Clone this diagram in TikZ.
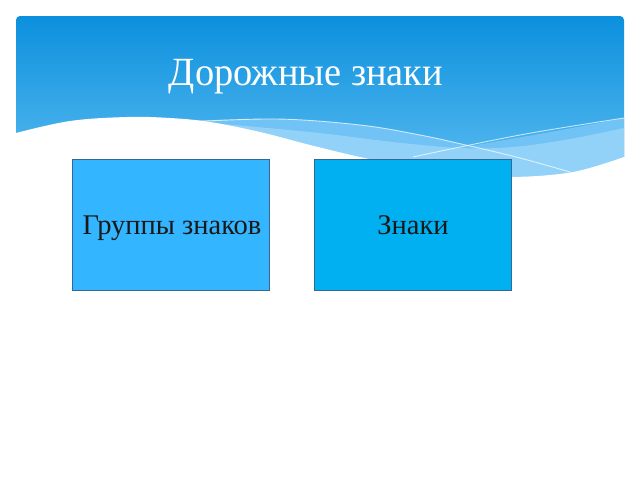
\documentclass[tikz,border=0pt]{standalone}
\usepackage{fontspec}
\setmainfont{Liberation Serif}
\begin{document}
\begin{tikzpicture}[x=1pt,y=-1pt]
\definecolor{hdrtop}{RGB}{12,144,221}
\definecolor{hdrbot}{RGB}{95,190,242}
\definecolor{bandA}{RGB}{112,195,244}
\definecolor{bandB}{RGB}{146,210,249}
\definecolor{boxA}{RGB}{51,181,255}
\definecolor{boxB}{RGB}{0,176,240}
\definecolor{boxline}{RGB}{52,104,146}
\tikzset{
  card/.style={draw=boxline, line width=1pt, minimum width=197pt, minimum height=131pt, inner sep=0pt},
  thinline/.style={draw=white, draw opacity=0.7, line width=0.9pt},
  cardtext/.style={font=\fontsize{28.5}{32}\selectfont, text=black!90, anchor=base}
}
\useasboundingbox (0,0) rectangle (640,480);
\fill[white] (0,0) rectangle (640,480);
% header
\shade[top color=hdrtop, bottom color=hdrbot, rounded corners=4pt]
  (16,190) -- (16,16) -- (624,16) -- (624,190) -- cycle;
% band A
\fill[bandA] plot[smooth, tension=0.6] coordinates {(185,121) (277,119) (360,125) (420,135) (470,146)}
  -- plot[smooth] coordinates {(470,146) (550,132) (624,118)} -- (624,190) -- (185,190) -- cycle;
% band B
\fill[bandB] plot[smooth, tension=0.6] coordinates {(200,122) (310,132) (393,142) (460,148) (513,147) (570,139) (624,128)}
  -- (624,190) -- (200,190) -- cycle;
% white wave
\fill[white] plot[smooth, tension=0.6] coordinates {(16,133) (70,121) (127,117) (170,118) (210,122) (260,132) (310,145) (360,157) (410,167) (460,174) (513,177) (573,172) (624,157)}
  -- (630,157) -- (630,200) -- (10,200) -- (10,133) -- cycle;
% thin lines
\draw[thinline] plot[smooth, tension=0.6] coordinates {(187,122) (277,119) (360,125) (420,135) (470,146) (520,158) (570,172)};
\draw[thinline] plot[smooth, tension=0.6] coordinates {(413,157) (520,135) (624,118)};
% title
\node[font=\fontsize{40}{48}\selectfont, text=white, anchor=base, xscale=0.96] (title) at (306,85) {Дорожные знаки};
% boxes
\node[card, fill=boxA] (groups) at (170.5,224.5) {};
\node[card, fill=boxB] (signs) at (413,224.5) {};
\node[cardtext] (groupstxt) at (172,234.5) {Группы знаков};
\node[cardtext] (signstxt) at (413,234.5) {Знаки};
\end{tikzpicture}
\end{document}
